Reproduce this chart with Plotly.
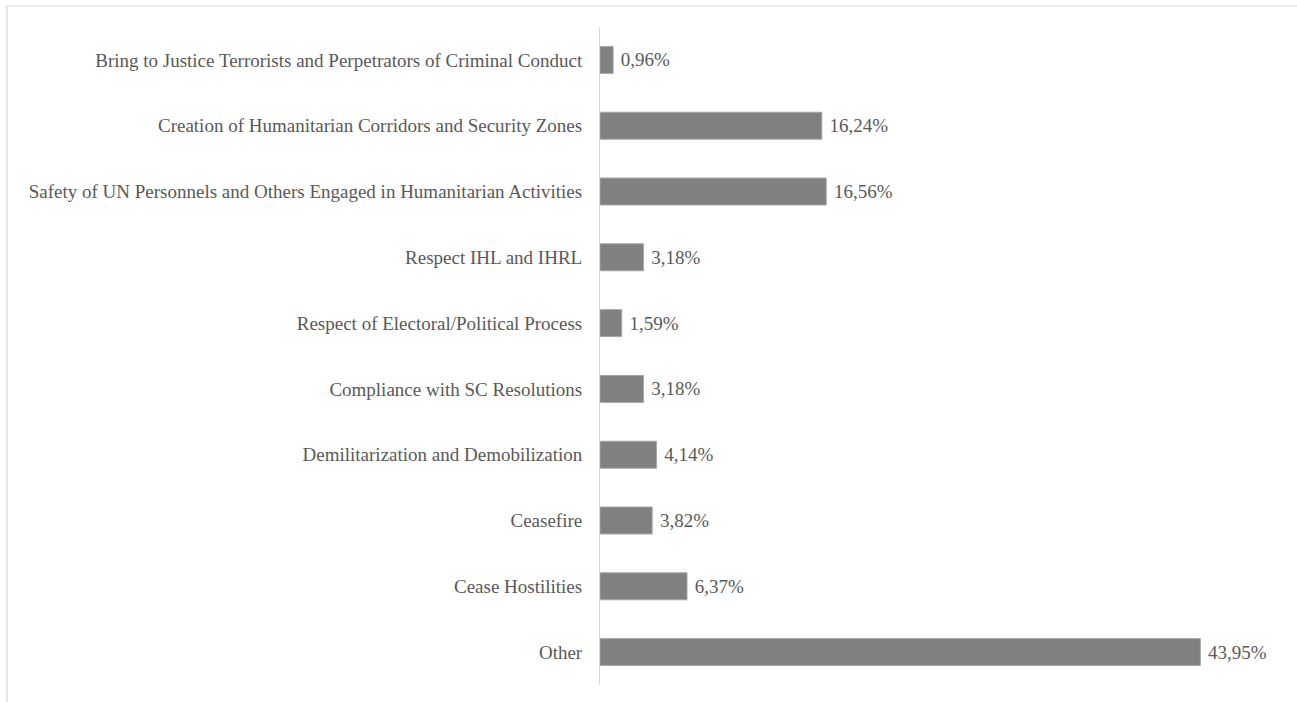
import plotly.graph_objects as go

categories = [
    "Bring to Justice Terrorists and Perpetrators of Criminal Conduct",
    "Creation of Humanitarian Corridors and Security Zones",
    "Safety of UN Personnels and Others Engaged in Humanitarian Activities",
    "Respect IHL and IHRL",
    "Respect of Electoral/Political Process",
    "Compliance with SC Resolutions",
    "Demilitarization and Demobilization",
    "Ceasefire",
    "Cease Hostilities",
    "Other",
]
values = [0.96, 16.24, 16.56, 3.18, 1.59, 3.18, 4.14, 3.82, 6.37, 43.95]
labels = ["\u00a0" + f"{v:.2f}%".replace(".", ",") for v in values]

fig = go.Figure(go.Bar(
    y=categories,
    x=values,
    orientation="h",
    text=labels,
    textposition="outside",
    cliponaxis=False,
    textfont=dict(family="Liberation Serif", size=19, color="#595959"),
    marker=dict(color="#808080", line=dict(color="#a6a6a6", width=1)),
    width=0.41,
))

fig.update_layout(
    width=1297, height=702,
    margin=dict(l=600, r=14, t=27, b=17),
    paper_bgcolor="white", plot_bgcolor="white",
    showlegend=False,
    font=dict(family="Liberation Serif", size=19, color="#595959"),
    xaxis=dict(range=[0, 50], visible=False),
    yaxis=dict(
        autorange="reversed",
        showline=True, linecolor="#d9d9d9", linewidth=1,
        showgrid=False, ticks="", ticklabelstandoff=13,
        tickfont=dict(family="Liberation Serif", size=19, color="#595959"),
    ),
    shapes=[
        dict(type="line", xref="paper", yref="paper", x0=-593/683, x1=697/683, y0=1+21/658, y1=1+21/658,
             line=dict(color="#efebdf", width=2)),
        dict(type="line", xref="paper", yref="paper", x0=-593/683, x1=-593/683, y0=-17/658, y1=1+21/658,
             line=dict(color="#e8e6e0", width=2)),
    ],
)

fig.write_html("out.html", config={"displayModeBar": False},
               post_script="document.body.style.margin='0';")
